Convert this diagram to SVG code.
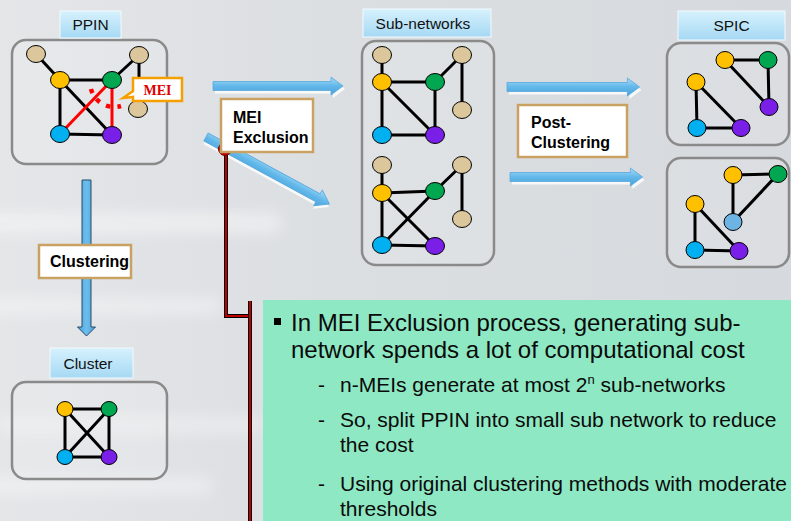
<svg xmlns="http://www.w3.org/2000/svg" width="791" height="521" viewBox="0 0 791 521">
<defs>
  <linearGradient id="bg" x1="0" y1="0" x2="1" y2="0">
    <stop offset="0" stop-color="#e4e6e8"/>
    <stop offset="0.4" stop-color="#dcdfe2"/>
    <stop offset="1" stop-color="#d6d9dd"/>
  </linearGradient>
  <linearGradient id="lbl" x1="0" y1="0" x2="0" y2="1">
    <stop offset="0" stop-color="#d6f1fd"/>
    <stop offset="1" stop-color="#a6d9f4"/>
  </linearGradient>
  <linearGradient id="arr" x1="0" y1="0" x2="0" y2="1">
    <stop offset="0" stop-color="#a6dcf7"/>
    <stop offset="0.5" stop-color="#62b8ea"/>
    <stop offset="1" stop-color="#4aa2da"/>
  </linearGradient>
  <linearGradient id="arrv" x1="0" y1="0" x2="1" y2="0">
    <stop offset="0" stop-color="#4aa2da"/>
    <stop offset="0.5" stop-color="#6cbdec"/>
    <stop offset="1" stop-color="#4aa2da"/>
  </linearGradient>
  <filter id="blur" x="-20%" y="-200%" width="140%" height="500%">
    <feGaussianBlur stdDeviation="8"/>
  </filter>
  <path id="harrow" d="M0,-4.5 H118 V-9 L130,0 L118,9 V4.5 H0 Z"/>
</defs>
<style>
  .cont { fill: #ffffff; fill-opacity: 0.12; stroke: #8a8a8a; stroke-width: 2.5; }
  .lbl { fill: url(#lbl); stroke: #f2f9fd; stroke-width: 1; }
  .lt { font-family: "Liberation Sans", Arial, sans-serif; font-size: 15.5px; fill: #111; text-anchor: middle; }
  .box { fill: #ffffff; stroke: #c9a263; stroke-width: 2.5; }
  .bt { font-family: "Liberation Sans", Arial, sans-serif; font-size: 16px; font-weight: bold; fill: #000; }
  .e { stroke: #000; stroke-width: 3; fill: none; }
  .re { stroke: #ff0000; stroke-width: 3; fill: none; }
  .n { stroke: #000; stroke-width: 1; }
  .tan { fill: #dcc79c; }
  .org { fill: #ffc000; }
  .grn { fill: #00a650; }
  .blu { fill: #00b0f0; }
  .pur { fill: #7a1fe8; }
  .lbu { fill: #6cb4e4; }
  .arrow { fill: url(#arr); stroke: #5aa8dc; stroke-width: 0.8; }
  .ashadow { fill: #ffffff; opacity: 0.8; }
  .main { font-family: "Liberation Sans", Arial, sans-serif; fill: #0a0a0a; }
  .big { font-size: 24px; }
  .sub { font-size: 21px; }
</style>

<!-- background -->
<rect x="0" y="0" width="791" height="521" fill="url(#bg)"/>
<g opacity="0.5" filter="url(#blur)">
  <rect x="-20" y="215" width="300" height="16" fill="#ffffff"/>
  <rect x="-20" y="300" width="240" height="12" fill="#ffffff"/>
  <rect x="0" y="420" width="260" height="10" fill="#ffffff"/>
  <rect x="-20" y="480" width="230" height="12" fill="#ffffff"/>
</g>

<!-- connectors -->
<g id="connectors">
  <!-- PPIN -> Sub-networks (top) -->
  <g transform="translate(213,86)">
    <use href="#harrow" class="ashadow" transform="translate(2,3)"/>
    <use href="#harrow" class="arrow"/>
  </g>
  <!-- PPIN -> Sub-networks (diagonal) -->
  <g transform="translate(206,137) rotate(28.5)">
    <use href="#harrow" class="ashadow" transform="translate(1,3) scale(1.08,1)"/>
    <use href="#harrow" class="arrow" transform="scale(1.08,1)"/>
  </g>
  <!-- Post-clustering arrows -->
  <g transform="translate(507,87)">
    <use href="#harrow" class="ashadow" transform="translate(2,3) scale(1.02,1)"/>
    <use href="#harrow" class="arrow" transform="scale(1.02,1)"/>
  </g>
  <g transform="translate(510,177)">
    <use href="#harrow" class="ashadow" transform="translate(2,3) scale(1.02,1)"/>
    <use href="#harrow" class="arrow" transform="scale(1.02,1)"/>
  </g>
  <!-- Clustering vertical arrow -->
  <path d="M82,180 H91 V327 H95.5 L86.5,336 L77.5,327 H82 Z" fill="url(#arrv)" stroke="#2a4a6a" stroke-width="1"/>
  <!-- callout line from MEI Exclusion to text -->
  <path d="M226,149 V316 H250" fill="none" stroke="#000" stroke-width="4"/>
  <path d="M226,149 V316 H250" fill="none" stroke="#c00000" stroke-width="2"/>
  <path d="M250,301 V521" fill="none" stroke="#000" stroke-width="4"/>
  <path d="M250,301 V521" fill="none" stroke="#c00000" stroke-width="2"/>
  <circle cx="225" cy="149" r="6.5" fill="#c00000" stroke="#7a0000" stroke-width="1"/>
</g>

<!-- PPIN -->
<g id="ppin">
  <rect x="12" y="40" width="155" height="124" rx="14" class="cont"/>
  <rect x="60" y="11" width="61" height="27" class="lbl"/>
  <text x="90.5" y="30" class="lt">PPIN</text>
  <line x1="36" y1="54" x2="60" y2="80" class="e"/>
  <line x1="139" y1="55" x2="112" y2="80" class="e"/>
  <line x1="139" y1="55" x2="139" y2="109" class="e"/>
  <line x1="60" y1="80" x2="112" y2="80" class="e"/>
  <line x1="60" y1="80" x2="60" y2="134" class="e"/>
  <line x1="60" y1="80" x2="112" y2="135" class="e"/>
  <line x1="60" y1="134" x2="112" y2="135" class="e"/>
  <line x1="112" y1="80" x2="60" y2="134" class="re"/>
  <line x1="112" y1="80" x2="112" y2="135" class="re"/>
  <path d="M91,89 A24,24 0 0 0 121,106" fill="none" stroke="#ff0000" stroke-width="4.5" stroke-dasharray="4.5,7"/>
  <ellipse cx="36" cy="54" rx="9.5" ry="8.5" class="n tan"/>
  <ellipse cx="139" cy="55" rx="9.5" ry="8.5" class="n tan"/>
  <ellipse cx="138" cy="109" rx="9.5" ry="8.5" class="n tan"/>
  <ellipse cx="60" cy="80" rx="9.5" ry="8.5" class="n org"/>
  <ellipse cx="112" cy="80" rx="9.5" ry="8.5" class="n grn"/>
  <ellipse cx="60" cy="134" rx="9.5" ry="8.5" class="n blu"/>
  <ellipse cx="112" cy="135" rx="9.5" ry="8.5" class="n pur"/>
</g>

<!-- MEI callout -->
<g id="mei-callout">
  <path d="M133,78 H182 V101 H133 V97 L123,98 L133,91 Z" fill="#ffffff" stroke="#f5a000" stroke-width="2.5" stroke-linejoin="miter"/>
  <text x="157.5" y="95" font-family="'Liberation Serif', 'Times New Roman', serif" font-size="14" font-weight="bold" fill="#e00000" text-anchor="middle">MEI</text>
</g>

<!-- MEI Exclusion -->
<g id="mei-exclusion">
  <rect x="221" y="99" width="92" height="53" class="box"/>
  <text x="233" y="123" class="bt">MEI</text>
  <text x="233" y="143" class="bt">Exclusion</text>
</g>

<!-- Sub-networks -->
<g id="sub-networks">
  <rect x="362" y="41" width="132" height="224" rx="14" class="cont"/>
  <rect x="363" y="9" width="128" height="28" class="lbl"/>
  <text x="423" y="29" class="lt" font-size="16">Sub-networks</text>
  <!-- top -->
  <line x1="382" y1="55" x2="382" y2="82" class="e"/>
  <line x1="382" y1="82" x2="435" y2="82" class="e"/>
  <line x1="382" y1="82" x2="382" y2="135" class="e"/>
  <line x1="382" y1="82" x2="435" y2="135" class="e"/>
  <line x1="435" y1="82" x2="435" y2="135" class="e"/>
  <line x1="382" y1="135" x2="435" y2="135" class="e"/>
  <line x1="435" y1="82" x2="462" y2="55" class="e"/>
  <line x1="462" y1="55" x2="462" y2="110" class="e"/>
  <ellipse cx="382" cy="55" rx="9.5" ry="8.5" class="n tan"/>
  <ellipse cx="462" cy="55" rx="9.5" ry="8.5" class="n tan"/>
  <ellipse cx="462" cy="110" rx="9.5" ry="8.5" class="n tan"/>
  <ellipse cx="382" cy="82" rx="9.5" ry="8.5" class="n org"/>
  <ellipse cx="435" cy="82" rx="9.5" ry="8.5" class="n grn"/>
  <ellipse cx="382" cy="135" rx="9.5" ry="8.5" class="n blu"/>
  <ellipse cx="435" cy="135" rx="9.5" ry="8.5" class="n pur"/>
  <!-- bottom -->
  <line x1="382" y1="165" x2="382" y2="193" class="e"/>
  <line x1="382" y1="193" x2="435" y2="191" class="e"/>
  <line x1="382" y1="193" x2="382" y2="245" class="e"/>
  <line x1="382" y1="193" x2="435" y2="246" class="e"/>
  <line x1="435" y1="191" x2="382" y2="245" class="e"/>
  <line x1="382" y1="245" x2="435" y2="246" class="e"/>
  <line x1="435" y1="191" x2="462" y2="165" class="e"/>
  <line x1="462" y1="165" x2="462" y2="219" class="e"/>
  <ellipse cx="382" cy="165" rx="9.5" ry="8.5" class="n tan"/>
  <ellipse cx="462" cy="165" rx="9.5" ry="8.5" class="n tan"/>
  <ellipse cx="462" cy="219" rx="9.5" ry="8.5" class="n tan"/>
  <ellipse cx="382" cy="193" rx="9.5" ry="8.5" class="n org"/>
  <ellipse cx="435" cy="191" rx="9.5" ry="8.5" class="n grn"/>
  <ellipse cx="382" cy="245" rx="9.5" ry="8.5" class="n blu"/>
  <ellipse cx="435" cy="246" rx="9.5" ry="8.5" class="n pur"/>
</g>

<!-- Post-Clustering -->
<g id="post-clustering">
  <rect x="518" y="105" width="109" height="52" class="box"/>
  <text x="531" y="128" class="bt">Post-</text>
  <text x="531" y="148" class="bt">Clustering</text>
</g>

<!-- SPIC -->
<g id="spic">
  <rect x="678" y="11" width="107" height="29" class="lbl"/>
  <text x="731.5" y="31" class="lt">SPIC</text>
  <rect x="667" y="43" width="122" height="102" rx="14" class="cont"/>
  <line x1="725" y1="60" x2="768" y2="60" class="e"/>
  <line x1="725" y1="60" x2="769" y2="107" class="e"/>
  <line x1="768" y1="60" x2="769" y2="107" class="e"/>
  <line x1="696" y1="82" x2="697" y2="128" class="e"/>
  <line x1="696" y1="82" x2="741" y2="128" class="e"/>
  <line x1="697" y1="128" x2="741" y2="128" class="e"/>
  <ellipse cx="725" cy="60" rx="9" ry="8.5" class="n org"/>
  <ellipse cx="768" cy="60" rx="9" ry="8.5" class="n grn"/>
  <ellipse cx="769" cy="107" rx="9" ry="8.5" class="n pur"/>
  <ellipse cx="696" cy="82" rx="9" ry="8.5" class="n org"/>
  <ellipse cx="697" cy="128" rx="9" ry="8.5" class="n blu"/>
  <ellipse cx="741" cy="128" rx="9" ry="8.5" class="n pur"/>
  <rect x="667" y="158" width="122" height="109" rx="14" class="cont"/>
  <line x1="733" y1="175" x2="778" y2="174" class="e"/>
  <line x1="733" y1="175" x2="733" y2="222" class="e"/>
  <line x1="778" y1="174" x2="733" y2="222" class="e"/>
  <line x1="695" y1="204" x2="695" y2="250" class="e"/>
  <line x1="695" y1="204" x2="739" y2="251" class="e"/>
  <line x1="695" y1="250" x2="739" y2="251" class="e"/>
  <ellipse cx="733" cy="175" rx="9" ry="8.5" class="n org"/>
  <ellipse cx="778" cy="174" rx="9" ry="8.5" class="n grn"/>
  <ellipse cx="733" cy="222" rx="9" ry="8.5" class="n lbu"/>
  <ellipse cx="695" cy="204" rx="9" ry="8.5" class="n org"/>
  <ellipse cx="695" cy="250" rx="9" ry="8.5" class="n blu"/>
  <ellipse cx="739" cy="251" rx="9" ry="8.5" class="n pur"/>
</g>

<!-- Clustering label -->
<g id="clustering">
  <rect x="39" y="245" width="92" height="33" class="box"/>
  <text x="50" y="267" class="bt">Clustering</text>
</g>

<!-- Cluster -->
<g id="cluster">
  <rect x="12" y="382" width="155" height="97" rx="14" class="cont"/>
  <rect x="50" y="348" width="83" height="30" class="lbl"/>
  <text x="88" y="369" class="lt">Cluster</text>
  <line x1="65" y1="409" x2="109" y2="409" class="e"/>
  <line x1="65" y1="409" x2="65" y2="457" class="e"/>
  <line x1="109" y1="409" x2="109" y2="457" class="e"/>
  <line x1="65" y1="457" x2="109" y2="457" class="e"/>
  <line x1="65" y1="409" x2="109" y2="457" class="e"/>
  <line x1="109" y1="409" x2="65" y2="457" class="e"/>
  <ellipse cx="65" cy="409" rx="8" ry="7.5" class="n org"/>
  <ellipse cx="109" cy="409" rx="8" ry="7.5" class="n grn"/>
  <ellipse cx="65" cy="457" rx="8" ry="7.5" class="n blu"/>
  <ellipse cx="109" cy="457" rx="8" ry="7.5" class="n pur"/>
</g>

<!-- Text note -->
<g id="note">
  <rect x="263" y="300" width="528" height="221" fill="#8ee8c4"/>
  <rect x="274" y="318" width="7" height="7" fill="#000"/>
  <text x="291" y="331" class="main big">In MEI Exclusion process, generating sub-</text>
  <text x="291" y="358" class="main big">network spends a lot of computational cost</text>
  <text x="318" y="392" class="main sub">-</text>
  <text x="340" y="392" class="main sub">n-MEIs generate at most 2<tspan font-size="13" dy="-8">n</tspan><tspan dy="8"> sub-networks</tspan></text>
  <text x="318" y="427" class="main sub">-</text>
  <text x="340" y="427" class="main sub">So, split PPIN into small sub network to reduce</text>
  <text x="340" y="452" class="main sub">the cost</text>
  <text x="318" y="491" class="main sub">-</text>
  <text x="340" y="491" class="main sub">Using original clustering methods with moderate</text>
  <text x="340" y="516" class="main sub">thresholds</text>
</g>
</svg>
